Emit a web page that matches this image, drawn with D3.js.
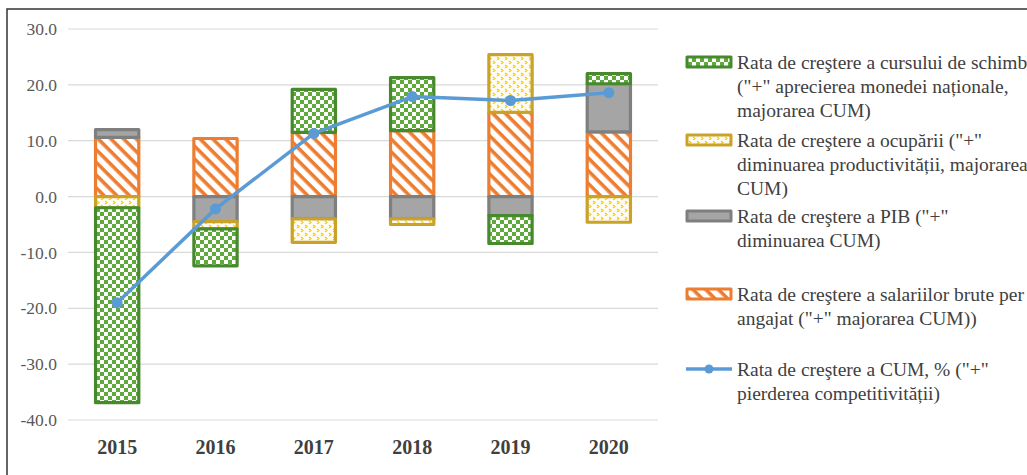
<!DOCTYPE html>
<html>
<head>
<meta charset="utf-8">
<script src="https://cdn.jsdelivr.net/npm/d3@7"></script>
<style>
  body { margin: 0; background: #fff; }
  svg { display: block; }
  .serif { font-family: "Liberation Serif", "Times New Roman", "DejaVu Serif", serif; }
</style>
</head>
<body>
<svg id="chart" width="1027" height="475"></svg>
<script>
const years = ['2015', '2016', '2017', '2018', '2019', '2020'];
const salarii = [10.6, 10.4, 11.5, 11.8, 15.1, 11.6];
const pib = [1.4, -4.5, -4.0, -4.0, -3.4, 8.6];
const ocupare = [-2.0, -1.3, -4.2, -1.0, 10.3, -4.6];
const curs = [-34.9, -6.6, 7.7, 9.5, -5.0, 1.8];
const cum = [-19.0, -2.2, 11.3, 17.9, 17.2, 18.6];
const yTicks = [30, 20, 10, 0, -10, -20, -30, -40];

const legendItems = [
  { key: 'curs', lines: ['Rata de creştere a cursului de schimb', '("+" aprecierea monedei naționale,', 'majorarea CUM)'] },
  { key: 'ocupare', lines: ['Rata de creştere a ocupării ("+"', 'diminuarea productivității, majorarea', 'CUM)'] },
  { key: 'pib', lines: ['Rata de creştere a PIB ("+"', 'diminuarea CUM)'] },
  { key: 'salarii', lines: ['Rata de creştere a salariilor brute per', 'angajat ("+" majorarea CUM))'] },
  { key: 'cum', lines: ['Rata de creştere a CUM, % ("+"', 'pierderea competitivității)'] }
];

const svg = d3.select('#chart');
const defs = svg.append('defs');

// patterns
const pGreen = defs.append('pattern').attr('id', 'pat-curs')
  .attr('patternUnits', 'userSpaceOnUse').attr('width', 8).attr('height', 8);
pGreen.append('rect').attr('width', 8).attr('height', 8).attr('fill', '#ffffff');
pGreen.append('rect').attr('width', 4).attr('height', 4).attr('fill', '#5fa83c');
pGreen.append('rect').attr('x', 4).attr('y', 4).attr('width', 4).attr('height', 4).attr('fill', '#5fa83c');

const pYellow = defs.append('pattern').attr('id', 'pat-ocupare')
  .attr('patternUnits', 'userSpaceOnUse').attr('width', 8).attr('height', 8);
pYellow.append('rect').attr('width', 8).attr('height', 8).attr('fill', '#fffdf2');
pYellow.append('path').attr('d', 'M1,1 L3,2.5 L1,4').attr('fill', 'none')
  .attr('stroke', '#f0c419').attr('stroke-width', 1.1);
pYellow.append('path').attr('d', 'M5,5 L7,6.5 L5,8').attr('fill', 'none')
  .attr('stroke', '#f0c419').attr('stroke-width', 1.1);

const pOrange = defs.append('pattern').attr('id', 'pat-salarii')
  .attr('patternUnits', 'userSpaceOnUse').attr('width', 9).attr('height', 9)
  .attr('patternTransform', 'rotate(45)');
pOrange.append('rect').attr('width', 9).attr('height', 9).attr('fill', '#ffffff');
pOrange.append('rect').attr('width', 9).attr('height', 3.6).attr('fill', '#ed7d31');

const fills = { salarii: 'url(#pat-salarii)', pib: '#a5a5a5', ocupare: 'url(#pat-ocupare)', curs: 'url(#pat-curs)' };
const strokes = { salarii: '#ed7d31', pib: '#7f7f7f', ocupare: '#c9a227', curs: '#478a2e' };

// frame
svg.append('path').attr('d', 'M7,475 L7,9 L1027,9')
  .attr('fill', 'none').attr('stroke', '#333').attr('stroke-width', 1.5);

const x = d3.scaleBand().domain(years).range([68, 658]).paddingInner(0.56).paddingOuter(0.28);
const y = d3.scaleLinear().domain([-40, 30]).range([420, 29]);

// gridlines
svg.append('g')
  .selectAll('line').data(yTicks).join('line')
  .attr('x1', 68).attr('x2', 658)
  .attr('y1', d => y(d)).attr('y2', d => y(d))
  .attr('stroke', '#d9d9d9').attr('stroke-width', 1.2);

// y axis labels
const yAxis = svg.append('g').attr('transform', 'translate(60,0)')
  .call(d3.axisLeft(y).tickValues(yTicks).tickFormat(d => d.toFixed(1)).tickSize(0).tickPadding(3));
yAxis.attr('font-family', null).attr('font-size', null);
yAxis.select('.domain').remove();
yAxis.selectAll('text').attr('class', 'serif')
  .attr('font-size', 17.5).attr('fill', '#595959');

// x axis labels
const xAxis = svg.append('g').attr('transform', 'translate(0,' + 436 + ')')
  .call(d3.axisBottom(x).tickSize(0).tickPadding(0));
xAxis.attr('font-family', null).attr('font-size', null);
xAxis.select('.domain').remove();
xAxis.selectAll('text').attr('class', 'serif')
  .attr('font-size', 20).attr('font-weight', 'bold').attr('fill', '#404040')
  .attr('dy', '0.9em');

// stacked bars
const keys = ['salarii', 'pib', 'ocupare', 'curs'];
const table = years.map((yr, i) => ({ year: yr, salarii: salarii[i], pib: pib[i], ocupare: ocupare[i], curs: curs[i] }));
const stacked = d3.stack().keys(keys).offset(d3.stackOffsetDiverging)(table);

svg.append('g').selectAll('g').data(stacked).join('g')
  .attr('fill', d => fills[d.key])
  .attr('stroke', d => strokes[d.key])
  .selectAll('rect').data(d => d).join('rect')
  .attr('x', d => x(d.data.year))
  .attr('width', x.bandwidth())
  .attr('y', d => y(Math.max(d[0], d[1])))
  .attr('height', d => Math.abs(y(d[0]) - y(d[1])))
  .attr('stroke-width', 3.2)
  .attr('stroke-linejoin', 'round');

// CUM line
const line = d3.line()
  .x((d, i) => x(years[i]) + x.bandwidth() / 2)
  .y(d => y(d));

svg.append('path').datum(cum)
  .attr('d', line)
  .attr('fill', 'none').attr('stroke', '#5b9bd5').attr('stroke-width', 3.5)
  .attr('stroke-linejoin', 'round');

svg.append('g').selectAll('circle').data(cum).join('circle')
  .attr('cx', (d, i) => x(years[i]) + x.bandwidth() / 2)
  .attr('cy', d => y(d))
  .attr('r', 5.5)
  .attr('fill', '#5b9bd5');

// legend
const legendTop = [62, 140, 216, 294, 369];
const legend = svg.append('g');
legendItems.forEach((item, i) => {
  const g = legend.append('g').attr('transform', 'translate(0,' + legendTop[i] + ')');
  if (item.key === 'cum') {
    g.append('line').attr('x1', 686).attr('x2', 732).attr('y1', 0).attr('y2', 0)
      .attr('stroke', '#5b9bd5').attr('stroke-width', 3.5);
    g.append('circle').attr('cx', 709).attr('cy', 0).attr('r', 4.5).attr('fill', '#5b9bd5');
  } else {
    g.append('rect').attr('x', 687).attr('y', -5).attr('width', 44).attr('height', 10)
      .attr('fill', fills[item.key]).attr('stroke', strokes[item.key])
      .attr('stroke-width', 3).attr('stroke-linejoin', 'round');
  }
  g.append('text').attr('class', 'serif')
    .attr('font-size', 19.5)
    .attr('fill', '#404040')
    .selectAll('tspan').data(item.lines).join('tspan')
    .attr('x', 737).attr('y', (d, j) => j * 24).attr('dy', '0.35em')
    .text(d => d);
});
</script>
</body>
</html>
